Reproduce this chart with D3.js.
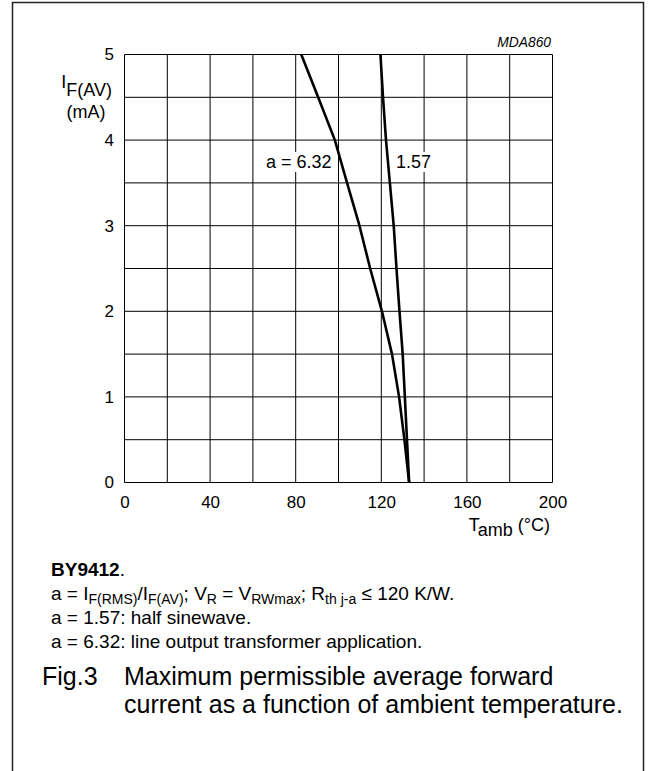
<!DOCTYPE html>
<html>
<head>
<meta charset="utf-8">
<script src="https://cdn.jsdelivr.net/npm/d3@7"></script>
<style>
  html, body { margin: 0; padding: 0; background: #fff; }
  svg { display: block; }
  text { font-family: "Liberation Sans", Arial, Helvetica, sans-serif; fill: #000; }
</style>
</head>
<body>
<svg id="chart" width="655" height="771"></svg>
<script>
// ---- data ----
const xTicks = [0, 40, 80, 120, 160, 200];
const yTicks = [0, 1, 2, 3, 4, 5];
const xGrid = [0, 20, 40, 60, 80, 100, 120, 140, 160, 180, 200];
const yGrid = [0, 0.5, 1, 1.5, 2, 2.5, 3, 3.5, 4, 4.5, 5];

// a = 6.32 curve
const temp632 = [133, 130.8, 128.3, 125, 120.3, 114.8, 109.8, 104, 98.3, 90.5, 82.6];
const curr632 = [0, 0.5, 1, 1.5, 2, 2.5, 3, 3.5, 4, 4.5, 5];
// a = 1.57 curve
const temp157 = [133, 132, 131, 130, 128.5, 127.1, 125.8, 124, 122.2, 120.8, 119.6];
const curr157 = [0, 0.5, 1, 1.5, 2, 2.5, 3, 3.5, 4, 4.5, 5];

const curveLabels = ["a = 6.32", "1.57"];

// ---- layout ----
const svg = d3.select("#chart");
const plot = { left: 124.5, top: 54.5, right: 552.5, bottom: 482.5 };

const x = d3.scaleLinear().domain([0, 200]).range([plot.left, plot.right]);
const y = d3.scaleLinear().domain([0, 5]).range([plot.bottom, plot.top]);

// outer frame
svg.append("rect")
  .attr("x", 12.5).attr("y", 2.5).attr("width", 631).attr("height", 800)
  .attr("fill", "none").attr("stroke", "#222").attr("stroke-width", 1.5);

// grid
const g = svg.append("g");
g.selectAll(".vg").data(xGrid).join("line")
  .attr("x1", d => x(d)).attr("x2", d => x(d))
  .attr("y1", plot.top).attr("y2", plot.bottom)
  .attr("stroke", "#000").attr("stroke-width", 1);
g.selectAll(".hg").data(yGrid).join("line")
  .attr("y1", d => y(d)).attr("y2", d => y(d))
  .attr("x1", plot.left).attr("x2", plot.right)
  .attr("stroke", "#000").attr("stroke-width", 1);

// axes tick labels
const xAxis = d3.axisBottom(x).tickValues(xTicks).tickSize(0).tickPadding(13).tickFormat(d3.format("d"));
const xa = svg.append("g").attr("transform", `translate(0,${plot.bottom})`).call(xAxis);
xa.select(".domain").remove();
xa.selectAll("text").style("font-size", "17px").attr("fill", "#000");

const yAxis = d3.axisLeft(y).tickValues(yTicks).tickSize(0).tickPadding(10.5).tickFormat(d3.format("d"));
const ya = svg.append("g").attr("transform", `translate(${plot.left},0)`).call(yAxis);
ya.select(".domain").remove();
ya.selectAll("text").style("font-size", "17px").attr("fill", "#000");

// curve labels with white background
const labelData = [
  { text: curveLabels[0], yv: 3.75, anchor: "end", xp: 331.5 },
  { text: curveLabels[1], yv: 3.75, anchor: "start", xp: 396 }
];
const lineGen = d3.line().x(d => x(d[0])).y(d => y(d[1]));

const bgG = svg.append("g");
const bgs = labelData.map(() => bgG.append("rect").attr("fill", "#fff"));

// curves
svg.append("path").datum(d3.zip(temp632, curr632))
  .attr("d", lineGen).attr("fill", "none").attr("stroke", "#000")
  .attr("stroke-width", 2.6).attr("stroke-linejoin", "round");
svg.append("path").datum(d3.zip(temp157, curr157))
  .attr("d", lineGen).attr("fill", "none").attr("stroke", "#000")
  .attr("stroke-width", 2.6).attr("stroke-linejoin", "round");

labelData.forEach((l, i) => {
  const t = svg.append("text")
    .attr("x", l.xp)
    .attr("y", y(l.yv) + 6.5)
    .attr("text-anchor", l.anchor)
    .style("font-size", "18px")
    .text(l.text);
  const bb = t.node().getBBox();
  bgs[i].attr("x", bb.x - 3).attr("y", bb.y).attr("width", bb.width + 6).attr("height", bb.height);
});

// y axis title
const yt = svg.append("text").attr("x", 112).attr("y", 88).attr("text-anchor", "end").style("font-size", "18px");
yt.append("tspan").text("I");
yt.append("tspan").attr("dy", 8).text("F(AV)");
svg.append("text").attr("x", 105.5).attr("y", 118).attr("text-anchor", "end")
  .style("font-size", "18px").text("(mA)");

// x axis title
const xt = svg.append("text").attr("x", 550).attr("y", 530.5).attr("text-anchor", "end").style("font-size", "18px");
xt.append("tspan").text("T");
xt.append("tspan").attr("dy", 5.5).text("amb");
xt.append("tspan").attr("dy", -5.5).text(" (°C)");

// figure code
svg.append("text").attr("x", 551).attr("y", 47).attr("text-anchor", "end")
  .style("font-size", "13.8px").style("font-style", "italic").text("MDA860");

// caption
const cx = 51;
const cfs = "19px", sfs = "14px";
const c1 = svg.append("text").attr("x", cx).attr("y", 576).style("font-size", cfs);
c1.append("tspan").style("font-weight", "bold").text("BY9412");
c1.append("tspan").text(".");

function subLine(yPos, parts) {
  const t = svg.append("text").attr("x", cx).attr("y", yPos).style("font-size", cfs);
  let lowered = false;
  parts.forEach(p => {
    const ts = t.append("tspan").text(p[0]);
    if (p[1]) {
      ts.style("font-size", sfs);
      if (!lowered) { ts.attr("dy", 3.5); lowered = true; }
    } else if (lowered) {
      ts.attr("dy", -3.5); lowered = false;
    }
  });
  return t;
}
subLine(600, [["a = I"], ["F(RMS)", 1], ["/I"], ["F(AV)", 1], ["; V"], ["R", 1], [" = V"], ["RWmax", 1], ["; R"], ["th j-a", 1], [" ≤ 120 K/W."]]);
svg.append("text").attr("x", cx).attr("y", 624).style("font-size", cfs).text("a = 1.57: half sinewave.");
svg.append("text").attr("x", cx).attr("y", 648).style("font-size", cfs).text("a = 6.32: line output transformer application.");

svg.append("text").attr("x", 42).attr("y", 685).style("font-size", "25px").text("Fig.3");
svg.append("text").attr("x", 124).attr("y", 685).style("font-size", "25px").text("Maximum permissible average forward");
svg.append("text").attr("x", 124).attr("y", 713).style("font-size", "25px").text("current as a function of ambient temperature.");
</script>
</body>
</html>
